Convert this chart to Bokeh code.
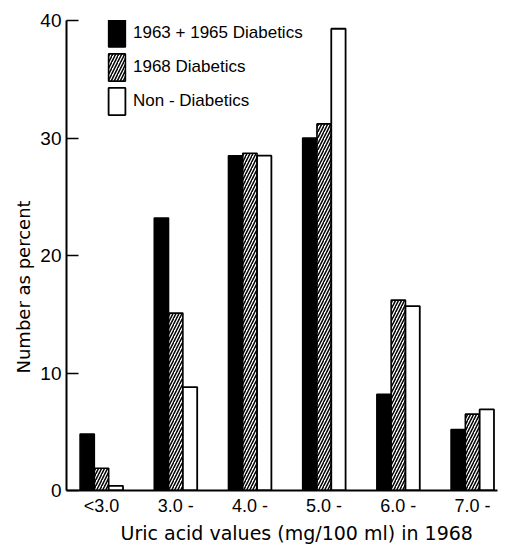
from bokeh.plotting import figure
from bokeh.models import ColumnDataSource, Range1d, FixedTicker, Legend, LegendItem, Title
from bokeh.embed import file_html
from bokeh.resources import INLINE
import numpy as np

categories = ["<3.0", "3.0 -", "4.0 -", "5.0 -", "6.0 -", "7.0 -"]
diab_1963_1965 = [4.8, 23.2, 28.5, 30.0, 8.2, 5.2]
diab_1968 = [1.9, 15.1, 28.7, 31.2, 16.2, 6.5]
non_diab = [0.4, 8.8, 28.5, 39.3, 15.7, 6.9]
y_ticks = [0, 10, 20, 30, 40]

FONT = "Liberation Sans"
TFONT = "DejaVu Sans"
idx = np.arange(len(categories))
bw = 0.193
src = ColumnDataSource(dict(
    x_a=idx - bw, x_b=idx, x_c=idx + bw,
    a=diab_1963_1965, b=diab_1968, c=non_diab,
))

p = figure(width=500, height=542, frame_width=431, frame_height=470,
           output_backend="svg", toolbar_location=None,
           x_range=Range1d(-0.472, 5.337), y_range=Range1d(0, 40),
           min_border_left=66, min_border_right=3, min_border_top=20, min_border_bottom=52)
p.outline_line_color = None
p.grid.visible = False

r1 = p.vbar(x="x_a", top="a", width=bw, source=src, fill_color="black",
            line_color="black", line_width=1.5)
r2 = p.vbar(x="x_b", top="b", width=bw, source=src, fill_color="white",
            line_color="black", line_width=1.6, hatch_pattern="/",
            hatch_color="black", hatch_scale=6, hatch_weight=1.5)
r3 = p.vbar(x="x_c", top="c", width=bw, source=src, fill_color="white",
            line_color="black", line_width=1.8)

# x axis
p.xaxis.ticker = FixedTicker(ticks=list(idx))
p.xaxis.major_label_overrides = {int(i): c for i, c in zip(idx, categories)}
p.xaxis.major_tick_line_color = None
p.xaxis.major_tick_in = 0
p.xaxis.major_tick_out = 0
p.xaxis.minor_tick_line_color = None
p.xaxis.axis_line_width = 2
p.xaxis.major_label_text_font = FONT
p.xaxis.major_label_text_font_size = "18px"
p.xaxis.major_label_text_color = "black"
p.xaxis.major_label_standoff = 5

# y axis
p.yaxis.ticker = FixedTicker(ticks=y_ticks)
p.yaxis.minor_tick_line_color = None
p.yaxis.major_tick_in = 12
p.yaxis.major_tick_out = 0
p.yaxis.major_tick_line_width = 1.5
p.yaxis.axis_line_width = 2
p.yaxis.major_label_text_font = FONT
p.yaxis.major_label_text_font_size = "19px"
p.yaxis.major_label_text_color = "black"
p.yaxis.major_label_standoff = 5

xt = Title(text="Uric acid values (mg/100 ml) in 1968", align="left", offset=54,
           standoff=2, text_font=TFONT, text_font_size="19px",
           text_font_style="normal", text_color="black")
p.add_layout(xt, "below")
yt = Title(text="Number as percent", align="left", offset=117,
           standoff=8, text_font=TFONT, text_font_size="18px",
           text_font_style="normal", text_color="black")
p.add_layout(yt, "left")

legend = Legend(items=[
    LegendItem(label="1963 + 1965 Diabetics", renderers=[r1]),
    LegendItem(label="1968 Diabetics", renderers=[r2]),
    LegendItem(label="Non - Diabetics", renderers=[r3]),
], location=(40, 372), glyph_width=21, glyph_height=34, label_standoff=6,
    spacing=-1, padding=0, margin=0, border_line_color=None,
    background_fill_alpha=0, label_text_font=FONT, label_text_font_size="17px",
    label_text_color="black")
p.add_layout(legend)

open("out.html", "w").write(file_html(p, INLINE))
